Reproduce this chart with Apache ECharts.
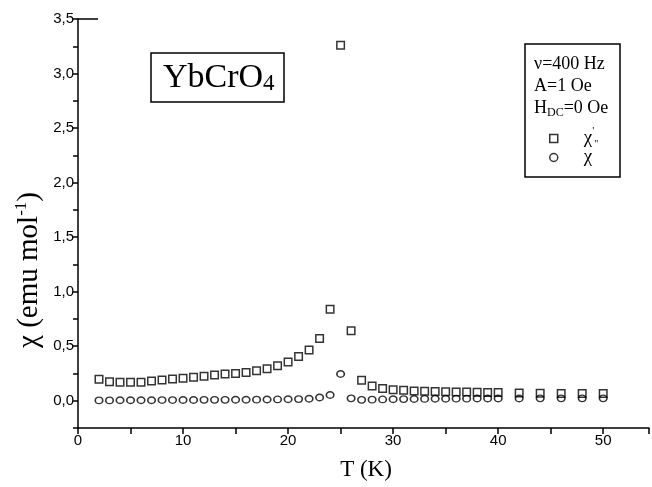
<!DOCTYPE html>
<html>
<head>
<meta charset="utf-8">
<script src="https://cdn.jsdelivr.net/npm/echarts@6/dist/echarts.min.js"></script>
<style>html,body{margin:0;padding:0;background:#fff;}#c{width:652px;height:487px;}</style>
</head>
<body>
<div id="c"></div>
<script>
// chi' (real part), squares
const T1 = [2,3,4,5,6,7,8,9,10,11,12,13,14,15,16,17,18,19,20,21,22,23,24,25,26,27,28,29,30,31,32,33,34,35,36,37,38,39,40,42,44,46,48,50];
const chi1 = [0.196,0.175,0.17,0.17,0.17,0.18,0.19,0.2,0.205,0.215,0.225,0.235,0.245,0.25,0.26,0.275,0.293,0.32,0.355,0.405,0.465,0.57,0.838,3.26,0.642,0.187,0.135,0.113,0.101,0.095,0.09,0.088,0.085,0.083,0.081,0.079,0.077,0.076,0.075,0.07,0.068,0.066,0.066,0.066];
// chi'' (imaginary part), circles
const T2 = [2,3,4,5,6,7,8,9,10,11,12,13,14,15,16,17,18,19,20,21,22,23,24,25,26,27,28,29,30,31,32,33,34,35,36,37,38,39,40,42,44,46,48,50];
const chi2 = [0.003,0.003,0.004,0.004,0.005,0.005,0.006,0.006,0.007,0.007,0.008,0.008,0.008,0.009,0.009,0.01,0.011,0.012,0.014,0.015,0.018,0.03,0.052,0.245,0.022,0.008,0.01,0.012,0.014,0.015,0.016,0.017,0.018,0.018,0.019,0.019,0.02,0.02,0.02,0.021,0.022,0.022,0.022,0.022];
const xTicks = [0,10,20,30,40,50];
const yTicks = ['0,0','0,5','1,0','1,5','2,0','2,5','3,0','3,5'];

const serif = '"Liberation Serif","DejaVu Serif",serif';
const sans = '"Liberation Sans",Arial,sans-serif';

const chart = echarts.init(document.getElementById('c'), null, {renderer:'canvas'});
const sq = T1.map((t,i)=>[t,chi1[i]]);
const ci = T2.map((t,i)=>[t,chi2[i]]);
const symStyle = {color:'rgba(0,0,0,0)', borderColor:'#000', borderWidth:1.5};
const legendText = {color:'#000', fontFamily:serif, fontSize:19, padding:[0,0,0,21],
  rich:{
    c:{fontFamily:serif, fontSize:19, color:'#000'},
    p:{fontFamily:serif, fontSize:11, color:'#000', padding:[0,0,14,0]},
    q:{fontFamily:serif, fontSize:10, color:'#000', padding:[12,0,0,0]}
  }};

chart.setOption({
  animation:false,
  backgroundColor:'#fff',
  grid:{left:78, right:0, top:19, bottom:59, containLabel:false},
  xAxis:{
    type:'value', min:0, max:54.36, interval:5,
    axisLine:{onZero:false, lineStyle:{color:'#000', width:1.5}},
    axisTick:{show:true, length:6, inside:false, lineStyle:{color:'#000', width:1.5}},
    axisLabel:{color:'#000', fontFamily:sans, fontSize:15, margin:5,
      formatter:v=> xTicks.indexOf(v)>=0 ? String(v) : ''},
    splitLine:{show:false}
  },
  yAxis:{
    type:'value', min:-0.25, max:3.5, interval:0.25,
    axisLine:{onZero:false, lineStyle:{color:'#000', width:1.5}},
    axisTick:{show:true, length:5, inside:false, lineStyle:{color:'#000', width:1.5}},
    axisLabel:{color:'#000', fontFamily:sans, fontSize:15, margin:4,
      formatter:v=>{ const k=Math.round(v*2); if (Math.abs(v*2-k)<1e-9 && k>=0) return yTicks[k]; return ''; }},
    splitLine:{show:false}
  },
  legend:[
    {orient:'vertical', left:549, top:126, itemWidth:8, itemHeight:8, padding:0,
     textStyle:legendText, formatter:()=>"{c|χ}{p|'}{q|\"}",
     data:[{name:'chi1', icon:'rect', itemStyle:symStyle}]},
    {orient:'vertical', left:549, top:148, itemWidth:8, itemHeight:8, padding:0,
     textStyle:legendText, formatter:()=>"{c|χ}",
     data:[{name:'chi2', icon:'circle', itemStyle:symStyle}]}
  ],
  series:[
    {name:'chi1', type:'scatter', data:sq, symbol:'rect', symbolSize:7.5, itemStyle:symStyle},
    {name:'chi2', type:'scatter', data:ci, symbol:'circle', symbolSize:[7.5,6.5], itemStyle:symStyle}
  ],
  graphic:[
    {type:'line', shape:{x1:78, y1:19, x2:98, y2:19}, style:{stroke:'#000', lineWidth:1.5}},
    {type:'rect', shape:{x:151, y:53, width:133, height:49}, style:{fill:'#fff', stroke:'#000', lineWidth:1.5}},
    {type:'text', x:163, y:78, style:{
      text:'{a|YbCrO}{b|4}', verticalAlign:'middle', align:'left',
      rich:{a:{fontFamily:serif, fontSize:34, fill:'#000'}, b:{fontFamily:serif, fontSize:23, fill:'#000', padding:[12,0,0,0]}}}},
    {type:'rect', shape:{x:525, y:44, width:95, height:133}, style:{fill:'rgba(0,0,0,0)', stroke:'#000', lineWidth:1.5}},
    {type:'text', x:534, y:64, style:{text:'ν=400 Hz', font:'18px '+serif, fill:'#000', verticalAlign:'middle'}},
    {type:'text', x:534, y:86, style:{text:'A=1 Oe', font:'18px '+serif, fill:'#000', verticalAlign:'middle'}},
    {type:'text', x:534, y:108, style:{text:'{a|H}{s|DC}{a|=0 Oe}', verticalAlign:'middle',
      rich:{a:{fontFamily:serif, fontSize:18, fill:'#000'}, s:{fontFamily:serif, fontSize:12, fill:'#000', padding:[10,0,0,0]}}}},
    {type:'text', x:366, y:470, style:{text:'T (K)', font:'23px '+serif, fill:'#000', align:'center', verticalAlign:'middle'}},
    {type:'text', x:29, y:270, rotation:Math.PI/2, style:{
      text:'{a|χ (emu mol}{s|-1}{a|)}', align:'center', verticalAlign:'middle',
      rich:{a:{fontFamily:serif, fontSize:29, fill:'#000'}, s:{fontFamily:serif, fontSize:17, fill:'#000', padding:[0,0,15,0]}}}}
  ]
});
</script>
</body>
</html>
